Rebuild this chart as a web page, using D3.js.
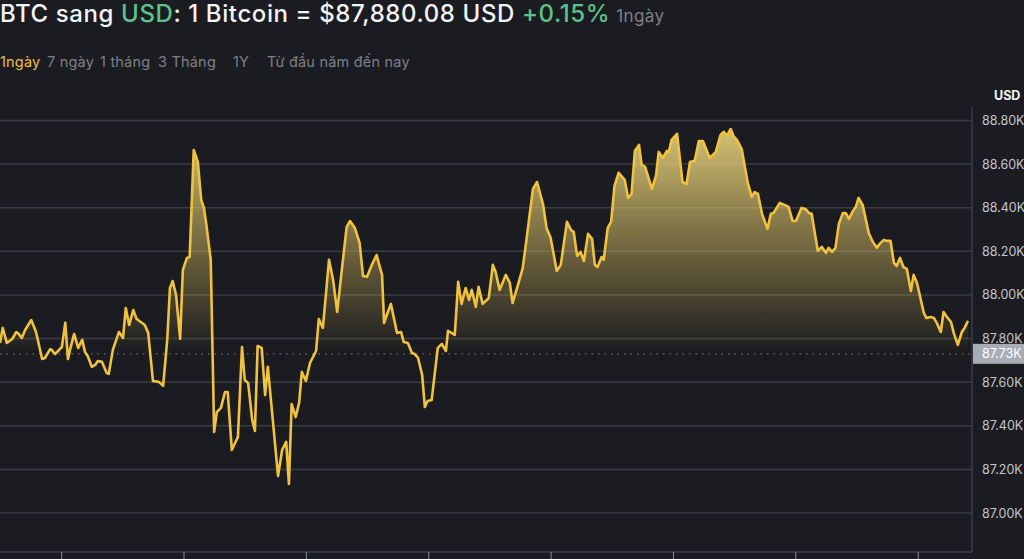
<html>
<script src="https://d3js.org/d3.v7.min.js"></script>
<style>
body {margin: 0; background: #1b1c21; overflow: hidden;}
text {font-family: Inter, Roboto, "Noto Sans", sans-serif;}
</style>
<body>
<svg width=1024 height=559></svg>
<script>
// 1 day of BTC/USD, [minutes after 13:30, price in USD]
var btcPrice = [
[0,87780],[4,87849],[10,87780],[18,87798],[24,87830],[26,87826],[32,87803],[37,87839],[46,87885],[53,87830],
[62,87706],[66,87711],[74,87752],[76,87748],[81,87729],[88,87752],[91,87761],[96,87872],[100,87706],[104,87761],
[109,87821],[115,87757],[121,87794],[125,87739],[129,87720],[135,87670],[140,87679],[144,87697],[150,87693],[157,87642],
[160,87638],[166,87748],[172,87803],[175,87830],[181,87803],[185,87940],[190,87862],[196,87931],[201,87890],[213,87862],
[218,87826],[225,87606],[234,87601],[240,87583],[246,87794],[250,88032],[254,88064],[259,88000],[265,87798],[269,88115],
[275,88170],[279,88174],[285,88665],[291,88610],[296,88436],[300,88399],[304,88312],[310,88161],[315,87372],[319,87463],
[325,87482],[331,87555],[335,87555],[341,87289],[350,87349],[356,87761],[360,87610],[365,87596],[371,87427],[375,87376],
[379,87766],[385,87757],[390,87541],[394,87670],[409,87170],[415,87289],[421,87326],[425,87133],[429,87500],[435,87440],
[440,87505],[444,87647],[450,87606],[456,87688],[465,87743],[469,87890],[475,87849],[484,88161],[490,88069],[496,87922],
[504,88147],[510,88312],[515,88339],[522,88307],[529,88239],[534,88087],[540,88083],[547,88138],[554,88183],[562,88092],
[565,87872],[569,87908],[575,87959],[584,87826],[590,87830],[594,87784],[600,87780],[606,87734],[610,87729],[615,87711],
[621,87633],[625,87486],[629,87514],[635,87518],[644,87757],[650,87775],[656,87743],[659,87835],[669,87817],[674,88060],
[679,87959],[685,88032],[690,87977],[694,88023],[700,87945],[704,88037],[710,87959],[719,87986],[725,88138],[729,88106],
[735,88023],[744,88092],[750,88055],[754,87963],[762,88046],[769,88124],[775,88266],[784,88486],[790,88518],[799,88413],
[804,88307],[810,88262],[819,88110],[825,88138],[834,88335],[840,88298],[844,88289],[849,88179],[854,88197],[859,88156],
[865,88280],[871,88257],[875,88138],[879,88128],[885,88174],[888,88161],[894,88307],[899,88335],[904,88500],[910,88560],
[919,88528],[924,88445],[929,88463],[934,88661],[940,88688],[944,88596],[949,88587],[959,88486],[965,88546],[969,88656],
[975,88628],[981,88661],[984,88656],[988,88711],[996,88739],[1004,88518],[1010,88509],[1015,88610],[1022,88615],[1028,88706],
[1034,88706],[1044,88628],[1053,88656],[1060,88734],[1065,88748],[1069,88729],[1075,88761],[1079,88729],[1084,88711],[1091,88670],
[1100,88514],[1106,88450],[1110,88472],[1115,88463],[1121,88372],[1129,88303],[1134,88372],[1138,88376],[1147,88422],[1154,88413],
[1160,88404],[1166,88339],[1171,88339],[1179,88399],[1185,88394],[1190,88376],[1194,88372],[1203,88202],[1209,88220],[1215,88193],
[1219,88216],[1224,88197],[1229,88216],[1234,88326],[1240,88376],[1244,88376],[1249,88349],[1254,88381],[1259,88404],[1263,88445],
[1269,88413],[1278,88284],[1284,88243],[1290,88216],[1294,88234],[1300,88252],[1304,88248],[1310,88248],[1315,88147],[1319,88133],
[1324,88170],[1329,88128],[1334,88119],[1340,88018],[1344,88092],[1349,88055],[1359,87917],[1363,87894],[1369,87899],[1374,87894],
[1378,87872],[1384,87830],[1388,87922],[1393,87899],[1399,87876],[1403,87826],[1409,87771],[1415,87830],[1419,87849],[1424,87881]
];
var yTicks = [87000, 87200, 87400, 87600, 87800, 88000, 88200, 88400, 88600, 88800];
var openPrice = 87730;
var tabs = ["1ngày", "7 ngày", "1 tháng", "3 Tháng", "1Y", "Từ đầu năm đến nay"];
var tabX = [0, 47, 100, 158, 233, 267];

var svg = d3.select("svg");
var plotW = 972, plotTop = 107, plotBottom = 552;
var start = new Date(2025, 0, 1, 13, 30);
var data = btcPrice.map(function(d) {return {t: d3.timeMinute.offset(start, d[0]), v: d[1]};});

var x = d3.scaleTime().domain([start, data[data.length-1].t]).range([0, 968]);
var y = d3.scaleLinear().domain([87000, 88800]).range([513, 120.5]);

// title
var title = svg.append("text").attr("x", 0).attr("y", 22).style("font-size", "24px")
.style("font-weight", 500).style("letter-spacing", "0.6px").attr("fill", "#f2f3f5");
title.append("tspan").text("BTC sang ");
title.append("tspan").attr("fill", "#5cc38a").text("USD");
title.append("tspan").text(": 1 Bitcoin = $87,880.08 USD ");
title.append("tspan").attr("fill", "#5cc38a").text("+0.15%");
title.append("tspan").attr("fill", "#7d808a").style("font-size", "17px").style("font-weight", 400)
.style("letter-spacing", "0.4px").attr("dx", 6).text("1ngày");

svg.selectAll(".tab").data(tabs).enter().append("text")
.attr("class", "tab")
.attr("x", function(d, i) {return tabX[i];})
.attr("y", 67)
.style("font-size", "14.5px")
.style("letter-spacing", "0.2px")
.attr("fill", function(d, i) {return i == 0 ? "#ebbd45" : "#7d808a";})
.text(function(d) {return d;});

// grid
svg.selectAll(".grid").data(yTicks).enter().append("line")
.attr("x1", 0).attr("x2", plotW)
.attr("y1", function(d) {return y(d);}).attr("y2", function(d) {return y(d);})
.attr("stroke", "#3b3d45").attr("stroke-width", 1.5);

// fill gradient above open price
var defs = svg.append("defs");
var grad = defs.append("linearGradient").attr("id", "fillGrad")
.attr("gradientUnits", "userSpaceOnUse").attr("x1", 0).attr("x2", 0)
.attr("y1", y(88800)).attr("y2", y(openPrice));
grad.append("stop").attr("offset", "0%").attr("stop-color", "#e2cf7e").attr("stop-opacity", 0.97);
grad.append("stop").attr("offset", "100%").attr("stop-color", "#d8b850").attr("stop-opacity", 0.0);

defs.append("clipPath").attr("id", "aboveOpen").append("rect")
.attr("x", 0).attr("y", 0).attr("width", plotW).attr("height", y(openPrice));

svg.append("path").datum(data)
.attr("clip-path", "url(#aboveOpen)")
.attr("fill", "url(#fillGrad)")
.attr("d", d3.area().x(function(d) {return x(d.t);}).y0(y(openPrice)).y1(function(d) {return y(d.v);}));

// dotted open price line
svg.append("line").attr("x1", 0).attr("x2", plotW)
.attr("y1", y(openPrice)).attr("y2", y(openPrice))
.attr("stroke", "#6d7078").attr("stroke-width", 1.2).attr("stroke-dasharray", "1.5,5");

svg.append("path").datum(data)
.attr("fill", "none").attr("stroke", "#f0c23e").attr("stroke-width", 2.6)
.attr("stroke-linejoin", "round")
.attr("d", d3.line().x(function(d) {return x(d.t);}).y(function(d) {return y(d.v);}));

// frame
svg.append("line").attr("x1", plotW).attr("x2", plotW).attr("y1", plotTop).attr("y2", plotBottom)
.attr("stroke", "#3b3d45").attr("stroke-width", 1.5);
svg.append("line").attr("x1", 0).attr("x2", plotW).attr("y1", plotBottom).attr("y2", plotBottom)
.attr("stroke", "#3b3d45").attr("stroke-width", 1.5);

// x ticks (labels fall below the window)
svg.append("g").attr("transform", "translate(0," + plotBottom + ")")
.call(d3.axisBottom(x).ticks(d3.timeHour.every(3)).tickSize(7).tickFormat(""))
.call(function(g) {g.select(".domain").remove(); g.selectAll("line").attr("stroke", "#8a8d95");});

// y axis labels
svg.append("g").attr("transform", "translate(" + plotW + ",0)")
.call(d3.axisRight(y).tickValues(yTicks).tickSize(0).tickPadding(10)
  .tickFormat(function(d) {return (d / 1000).toFixed(2) + "K";}))
.call(function(g) {
  g.select(".domain").remove();
  g.selectAll("text").style("font-size", "12.5px").attr("fill", "#c3c5cb").style("font-family", "Inter, Roboto, sans-serif");
});

svg.append("text").attr("x", 994).attr("y", 100).style("font-size", "12.5px")
.style("font-weight", "bold").attr("fill", "#f2f3f5").text("USD");

// open price label
svg.append("rect").attr("x", plotW + 1).attr("y", y(openPrice) - 10).attr("width", 60).attr("height", 20)
.attr("fill", "#a9acb4");
svg.append("text").attr("x", plotW + 10).attr("y", y(openPrice)).attr("dy", "0.35em")
.style("font-size", "12.5px").attr("fill", "#ffffff").text((openPrice / 1000).toFixed(2) + "K");
</script>
</body>
</html>
